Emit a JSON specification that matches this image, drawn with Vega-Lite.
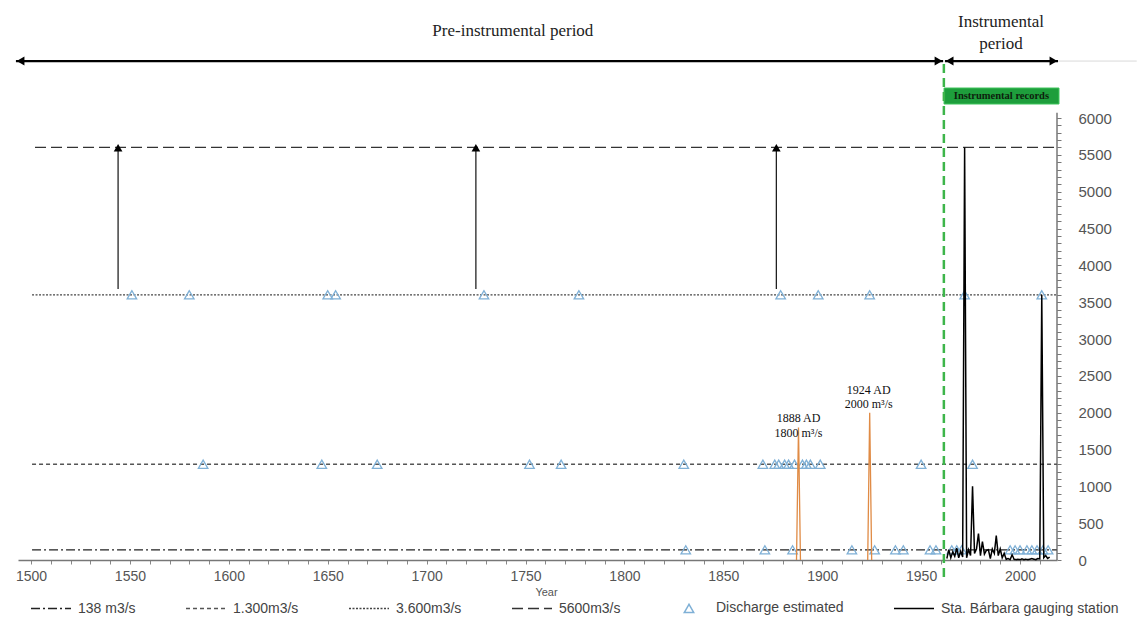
{
  "$schema": "https://vega.github.io/schema/vega-lite/v6.json",
  "width": 1039,
  "height": 555,
  "autosize": {"type": "none"},
  "padding": {"left": 18, "top": 5, "right": 80, "bottom": 59},
  "background": "white",
  "config": {"view": {"stroke": null}, "font": "Liberation Sans", "axis": {"labelOverlap": false, "labelFlush": false}},
  "datasets": {
    "separator": [{"year": 1491.9, "year2": 2059, "q": 6773}],
    "periodArrows": [
      {"year": 1492.4, "year2": 1961.1, "q": 6773},
      {"year": 1962.1, "year2": 2019.2, "q": 6773}
    ],
    "periodHeads": [
      {"year": 1494.7, "q": 6773, "end": "start"},
      {"year": 1958.8, "q": 6773, "end": "end"},
      {"year": 1964.4, "q": 6773, "end": "start"},
      {"year": 2016.9, "q": 6773, "end": "end"}
    ],
    "periodTexts": [
      {"year": 1743.6, "q": 7181, "label": "Pre-instrumental period"},
      {"year": 1990.4, "q": 7303, "label": "Instrumental"},
      {"year": 1990.4, "q": 7004, "label": "period"}
    ],
    "greenLine": [{"year": 1961.5, "q": -231, "q2": 6800}],
    "greenBox": [{"year": 1961.6, "year2": 2019.7, "q": 6190, "q2": 6407}],
    "greenText": [{"year": 1990.6, "q": 6300, "label": "Instrumental records"}],
    "thresholds": [
      {"series": "138 m3/s", "q": 138, "year": 1500.5, "year2": 2018.7},
      {"series": "1.300m3/s", "q": 1300, "year": 1500.5, "year2": 2018.7},
      {"series": "3.600m3/s", "q": 3600, "year": 1500.5, "year2": 2018.7},
      {"series": "5600m3/s", "q": 5600, "year": 1502, "year2": 2018.7}
    ],
    "vArrows": [
      {"year": 1544, "q": 3679, "q2": 5560},
      {"year": 1724.9, "q": 3679, "q2": 5560},
      {"year": 1876.8, "q": 3679, "q2": 5560}
    ],
    "vHeads": [
      {"year": 1544, "q": 5597},
      {"year": 1724.9, "q": 5597},
      {"year": 1876.8, "q": 5597}
    ],
    "discharge": [
      {"series": "Discharge estimated", "year": 1551, "q": 3600},
      {"series": "Discharge estimated", "year": 1580, "q": 3600},
      {"series": "Discharge estimated", "year": 1650, "q": 3600},
      {"series": "Discharge estimated", "year": 1654, "q": 3600},
      {"series": "Discharge estimated", "year": 1729, "q": 3600},
      {"series": "Discharge estimated", "year": 1777, "q": 3600},
      {"series": "Discharge estimated", "year": 1879, "q": 3600},
      {"series": "Discharge estimated", "year": 1898, "q": 3600},
      {"series": "Discharge estimated", "year": 1924, "q": 3600},
      {"series": "Discharge estimated", "year": 1972, "q": 3600},
      {"series": "Discharge estimated", "year": 2011, "q": 3600},
      {"series": "Discharge estimated", "year": 1587, "q": 1300},
      {"series": "Discharge estimated", "year": 1647, "q": 1300},
      {"series": "Discharge estimated", "year": 1675, "q": 1300},
      {"series": "Discharge estimated", "year": 1752, "q": 1300},
      {"series": "Discharge estimated", "year": 1768, "q": 1300},
      {"series": "Discharge estimated", "year": 1830, "q": 1300},
      {"series": "Discharge estimated", "year": 1870, "q": 1300},
      {"series": "Discharge estimated", "year": 1876, "q": 1300},
      {"series": "Discharge estimated", "year": 1878, "q": 1300},
      {"series": "Discharge estimated", "year": 1881, "q": 1300},
      {"series": "Discharge estimated", "year": 1883, "q": 1300},
      {"series": "Discharge estimated", "year": 1886, "q": 1300},
      {"series": "Discharge estimated", "year": 1890, "q": 1300},
      {"series": "Discharge estimated", "year": 1892, "q": 1300},
      {"series": "Discharge estimated", "year": 1894, "q": 1300},
      {"series": "Discharge estimated", "year": 1899, "q": 1300},
      {"series": "Discharge estimated", "year": 1950, "q": 1300},
      {"series": "Discharge estimated", "year": 1976, "q": 1300},
      {"series": "Discharge estimated", "year": 1831, "q": 138},
      {"series": "Discharge estimated", "year": 1871, "q": 138},
      {"series": "Discharge estimated", "year": 1885, "q": 138},
      {"series": "Discharge estimated", "year": 1915, "q": 138},
      {"series": "Discharge estimated", "year": 1926.5, "q": 138},
      {"series": "Discharge estimated", "year": 1937, "q": 138},
      {"series": "Discharge estimated", "year": 1941, "q": 138},
      {"series": "Discharge estimated", "year": 1954.5, "q": 138},
      {"series": "Discharge estimated", "year": 1957.5, "q": 138},
      {"series": "Discharge estimated", "year": 1965.5, "q": 138},
      {"series": "Discharge estimated", "year": 1968, "q": 138},
      {"series": "Discharge estimated", "year": 1970.5, "q": 138},
      {"series": "Discharge estimated", "year": 1995, "q": 138},
      {"series": "Discharge estimated", "year": 1997.5, "q": 138},
      {"series": "Discharge estimated", "year": 2000, "q": 138},
      {"series": "Discharge estimated", "year": 2003.5, "q": 138},
      {"series": "Discharge estimated", "year": 2006, "q": 138},
      {"series": "Discharge estimated", "year": 2008.6, "q": 138},
      {"series": "Discharge estimated", "year": 2011.6, "q": 138},
      {"series": "Discharge estimated", "year": 2014.2, "q": 138}
    ],
    "orange": [
      {"event": "1888", "year": 1887, "q": 0},
      {"event": "1888", "year": 1888, "q": 1800},
      {"event": "1888", "year": 1889, "q": 0},
      {"event": "1924", "year": 1923, "q": 0},
      {"event": "1924", "year": 1924, "q": 2000},
      {"event": "1924", "year": 1925, "q": 0}
    ],
    "annotations": [
      {"year": 1888, "q": 1927, "label": "1888 AD"},
      {"year": 1888, "q": 1724, "label": "1800 m³/s"},
      {"year": 1923.5, "q": 2308, "label": "1924 AD"},
      {"year": 1923.5, "q": 2118, "label": "2000 m³/s"}
    ],
    "yAxisLine": [{"year": 2018.7, "q": 0, "q2": 6070}],
    "gauge": [
      {"series": "Sta. Bárbara gauging station", "year": 1963, "q": 20},
      {"series": "Sta. Bárbara gauging station", "year": 1964, "q": 140},
      {"series": "Sta. Bárbara gauging station", "year": 1965, "q": 30},
      {"series": "Sta. Bárbara gauging station", "year": 1966, "q": 110},
      {"series": "Sta. Bárbara gauging station", "year": 1967, "q": 50},
      {"series": "Sta. Bárbara gauging station", "year": 1968, "q": 160},
      {"series": "Sta. Bárbara gauging station", "year": 1969, "q": 30},
      {"series": "Sta. Bárbara gauging station", "year": 1970, "q": 120},
      {"series": "Sta. Bárbara gauging station", "year": 1971, "q": 40},
      {"series": "Sta. Bárbara gauging station", "year": 1972, "q": 5600},
      {"series": "Sta. Bárbara gauging station", "year": 1973, "q": 30},
      {"series": "Sta. Bárbara gauging station", "year": 1974, "q": 140},
      {"series": "Sta. Bárbara gauging station", "year": 1975, "q": 60},
      {"series": "Sta. Bárbara gauging station", "year": 1976, "q": 1000},
      {"series": "Sta. Bárbara gauging station", "year": 1977, "q": 90},
      {"series": "Sta. Bárbara gauging station", "year": 1978, "q": 150},
      {"series": "Sta. Bárbara gauging station", "year": 1979, "q": 360},
      {"series": "Sta. Bárbara gauging station", "year": 1980, "q": 60},
      {"series": "Sta. Bárbara gauging station", "year": 1981, "q": 250},
      {"series": "Sta. Bárbara gauging station", "year": 1982, "q": 80},
      {"series": "Sta. Bárbara gauging station", "year": 1983, "q": 130},
      {"series": "Sta. Bárbara gauging station", "year": 1984, "q": 140},
      {"series": "Sta. Bárbara gauging station", "year": 1985, "q": 20},
      {"series": "Sta. Bárbara gauging station", "year": 1986, "q": 150},
      {"series": "Sta. Bárbara gauging station", "year": 1987, "q": 90},
      {"series": "Sta. Bárbara gauging station", "year": 1988, "q": 330},
      {"series": "Sta. Bárbara gauging station", "year": 1989, "q": 60},
      {"series": "Sta. Bárbara gauging station", "year": 1990, "q": 150},
      {"series": "Sta. Bárbara gauging station", "year": 1991, "q": 30},
      {"series": "Sta. Bárbara gauging station", "year": 1992, "q": 90},
      {"series": "Sta. Bárbara gauging station", "year": 1993, "q": 10},
      {"series": "Sta. Bárbara gauging station", "year": 1994, "q": 20},
      {"series": "Sta. Bárbara gauging station", "year": 1995, "q": 5},
      {"series": "Sta. Bárbara gauging station", "year": 1996, "q": 70},
      {"series": "Sta. Bárbara gauging station", "year": 1997, "q": 10},
      {"series": "Sta. Bárbara gauging station", "year": 1998, "q": 5},
      {"series": "Sta. Bárbara gauging station", "year": 1999, "q": 10},
      {"series": "Sta. Bárbara gauging station", "year": 2000, "q": 5},
      {"series": "Sta. Bárbara gauging station", "year": 2001, "q": 15},
      {"series": "Sta. Bárbara gauging station", "year": 2002, "q": 5},
      {"series": "Sta. Bárbara gauging station", "year": 2003, "q": 10},
      {"series": "Sta. Bárbara gauging station", "year": 2004, "q": 5},
      {"series": "Sta. Bárbara gauging station", "year": 2005, "q": 10},
      {"series": "Sta. Bárbara gauging station", "year": 2006, "q": 20},
      {"series": "Sta. Bárbara gauging station", "year": 2007, "q": 10},
      {"series": "Sta. Bárbara gauging station", "year": 2008, "q": 5},
      {"series": "Sta. Bárbara gauging station", "year": 2009, "q": 20},
      {"series": "Sta. Bárbara gauging station", "year": 2010, "q": 15},
      {"series": "Sta. Bárbara gauging station", "year": 2011, "q": 3600},
      {"series": "Sta. Bárbara gauging station", "year": 2012, "q": 30},
      {"series": "Sta. Bárbara gauging station", "year": 2013, "q": 60},
      {"series": "Sta. Bárbara gauging station", "year": 2014, "q": 20},
      {"series": "Sta. Bárbara gauging station", "year": 2015, "q": 40}
    ]
  },
  "layer": [
    {
      "data": {"name": "separator"},
      "mark": {"type": "rule", "color": "#d9d9d9", "strokeWidth": 1, "clip": false},
      "encoding": {
        "x": {
          "field": "year", "type": "quantitative",
          "scale": {"domain": [1493.4, 2018.7], "nice": false, "zero": false},
          "axis": {
            "title": "Year", "titleFont": "Liberation Sans", "titleFontSize": 11, "titleFontWeight": "normal", "titleColor": "#555", "titlePadding": 3, "titleX": 528,
            "values": [1500,1510,1520,1530,1540,1550,1560,1570,1580,1590,1600,1610,1620,1630,1640,1650,1660,1670,1680,1690,1700,1710,1720,1730,1740,1750,1760,1770,1780,1790,1800,1810,1820,1830,1840,1850,1860,1870,1880,1890,1900,1910,1920,1930,1940,1950,1960,1970,1980,1990,2000,2010],
            "tickCount": 200,
            "format": "d",
            "labelExpr": "datum.value % 50 === 0 ? datum.label : ''",
            "labelFont": "Liberation Sans", "labelFontSize": 14, "labelColor": "#555",
            "labelOverlap": false, "labelFlush": false, "labelPadding": 5,
            "tickColor": "#888", "tickSize": 4, "domainColor": "#777", "domainWidth": 1.5, "grid": false
          }
        },
        "x2": {"field": "year2"},
        "y": {
          "field": "q", "type": "quantitative",
          "scale": {"domain": [0, 7534], "nice": false, "zero": false},
          "axis": {
            "title": null, "orient": "right",
            "values": [0,100,200,300,400,500,600,700,800,900,1000,1100,1200,1300,1400,1500,1600,1700,1800,1900,2000,2100,2200,2300,2400,2500,2600,2700,2800,2900,3000,3100,3200,3300,3400,3500,3600,3700,3800,3900,4000,4100,4200,4300,4400,4500,4600,4700,4800,4900,5000,5100,5200,5300,5400,5500,5600,5700,5800,5900,6000],
            "tickCount": 200,
            "format": "d",
            "labelExpr": "datum.value % 500 === 0 ? datum.label : ''",
            "labelFont": "Liberation Sans", "labelFontSize": 15, "labelColor": "#555",
            "labelOverlap": false, "labelFlush": false, "labelPadding": 17,
            "tickColor": "#777", "tickSize": 4, "domain": false, "grid": false
          }
        }
      }
    },
    {
      "data": {"name": "thresholds"},
      "mark": {"type": "rule", "strokeWidth": 1.3, "clip": false},
      "encoding": {
        "x": {"field": "year", "type": "quantitative"},
        "x2": {"field": "year2"},
        "y": {"field": "q", "type": "quantitative"},
        "color": {
          "field": "series", "type": "nominal",
          "scale": {"domain": ["138 m3/s", "1.300m3/s", "3.600m3/s", "5600m3/s", "Discharge estimated", "Sta. Bárbara gauging station"], "range": ["#222222", "#555555", "#444444", "#333333", "#7fb0d6", "#000000"]},
          "legend": {
            "title": null, "orient": "none", "legendX": 12, "legendY": 582, "direction": "horizontal",
            "symbolType": "stroke", "symbolSize": 1600, "symbolStrokeWidth": 1.5,
            "labelFont": "Liberation Sans", "labelFontSize": 14, "labelColor": "#444", "labelLimit": 400,
            "columnPadding": 47, "labelOffset": 6,
            "encode": {"symbols": {"update": {
              "shape": {"signal": "datum.value === 'Discharge estimated' ? 'triangle-up' : 'stroke'"},
              "size": {"signal": "datum.value === 'Discharge estimated' ? 90 : 1600"},
              "fill": {"value": "transparent"}
            }}}
          }
        },
        "strokeDash": {
          "field": "series", "type": "nominal",
          "scale": {"domain": ["138 m3/s", "1.300m3/s", "3.600m3/s", "5600m3/s", "Discharge estimated", "Sta. Bárbara gauging station"], "range": [[9, 3, 2, 3], [4, 3], [2, 1.5], [11, 5], [1, 0], [1, 0]]},
          "legend": {
            "title": null, "orient": "none", "legendX": 12, "legendY": 582, "direction": "horizontal",
            "symbolType": "stroke", "symbolSize": 1600, "symbolStrokeWidth": 1.5,
            "labelFont": "Liberation Sans", "labelFontSize": 14, "labelColor": "#444", "labelLimit": 400,
            "columnPadding": 47, "labelOffset": 6,
            "encode": {"symbols": {"update": {
              "shape": {"signal": "datum.value === 'Discharge estimated' ? 'triangle-up' : 'stroke'"},
              "size": {"signal": "datum.value === 'Discharge estimated' ? 90 : 1600"},
              "fill": {"value": "transparent"}
            }}}
          }
        }
      }
    },
    {
      "data": {"name": "periodArrows"},
      "mark": {"type": "rule", "color": "#000000", "strokeWidth": 2.2, "clip": false},
      "encoding": {
        "x": {"field": "year", "type": "quantitative"},
        "x2": {"field": "year2"},
        "y": {"field": "q", "type": "quantitative"}
      }
    },
    {
      "data": {"name": "periodHeads"},
      "mark": {"type": "point", "filled": true, "color": "#000000", "size": 80, "opacity": 1, "clip": false},
      "encoding": {
        "x": {"field": "year", "type": "quantitative"},
        "y": {"field": "q", "type": "quantitative"},
        "shape": {"field": "end", "type": "nominal", "scale": {"domain": ["start", "end"], "range": ["triangle-left", "triangle-right"]}, "legend": null}
      }
    },
    {
      "data": {"name": "periodTexts"},
      "mark": {"type": "text", "font": "Liberation Serif", "fontSize": 17, "color": "#222222", "baseline": "middle", "align": "center", "clip": false},
      "encoding": {
        "x": {"field": "year", "type": "quantitative"},
        "y": {"field": "q", "type": "quantitative"},
        "text": {"field": "label"}
      }
    },
    {
      "data": {"name": "greenBox"},
      "mark": {"type": "rect", "fill": "#1e9e3c", "stroke": "#3cc45a", "strokeWidth": 1, "clip": false},
      "encoding": {
        "x": {"field": "year", "type": "quantitative"},
        "x2": {"field": "year2"},
        "y": {"field": "q", "type": "quantitative"},
        "y2": {"field": "q2"}
      }
    },
    {
      "data": {"name": "greenText"},
      "mark": {"type": "text", "font": "Liberation Serif", "fontSize": 10.5, "fontWeight": "bold", "color": "#0d1f0d", "baseline": "middle", "align": "center", "clip": false},
      "encoding": {
        "x": {"field": "year", "type": "quantitative"},
        "y": {"field": "q", "type": "quantitative"},
        "text": {"field": "label"}
      }
    },
    {
      "data": {"name": "vArrows"},
      "mark": {"type": "rule", "color": "#111111", "strokeWidth": 1.2, "clip": false},
      "encoding": {
        "x": {"field": "year", "type": "quantitative"},
        "y": {"field": "q", "type": "quantitative"},
        "y2": {"field": "q2"}
      }
    },
    {
      "data": {"name": "vHeads"},
      "mark": {"type": "point", "shape": "triangle-up", "filled": true, "color": "#000000", "size": 75, "opacity": 1, "clip": false},
      "encoding": {
        "x": {"field": "year", "type": "quantitative"},
        "y": {"field": "q", "type": "quantitative"}
      }
    },
    {
      "data": {"name": "discharge"},
      "mark": {"type": "point", "shape": "triangle-up", "filled": false, "size": 90, "strokeWidth": 1.3, "opacity": 1, "clip": false},
      "encoding": {
        "x": {"field": "year", "type": "quantitative"},
        "y": {"field": "q", "type": "quantitative"},
        "color": {"field": "series", "type": "nominal"}
      }
    },
    {
      "data": {"name": "orange"},
      "mark": {"type": "line", "color": "#e08b45", "strokeWidth": 1.3, "clip": false},
      "encoding": {
        "x": {"field": "year", "type": "quantitative"},
        "y": {"field": "q", "type": "quantitative"},
        "detail": {"field": "event", "type": "nominal"}
      }
    },
    {
      "data": {"name": "gauge"},
      "mark": {"type": "line", "strokeWidth": 1.5, "clip": false},
      "encoding": {
        "x": {"field": "year", "type": "quantitative"},
        "y": {"field": "q", "type": "quantitative"},
        "color": {"field": "series", "type": "nominal"},
        "strokeDash": {"field": "series", "type": "nominal"}
      }
    },
    {
      "data": {"name": "greenLine"},
      "mark": {"type": "rule", "color": "#3db54a", "strokeWidth": 2.5, "strokeDash": [9, 5], "clip": false},
      "encoding": {
        "x": {"field": "year", "type": "quantitative"},
        "y": {"field": "q", "type": "quantitative"},
        "y2": {"field": "q2"}
      }
    },
    {
      "data": {"name": "annotations"},
      "mark": {"type": "text", "font": "Liberation Serif", "fontSize": 12, "color": "#111111", "baseline": "middle", "align": "center", "clip": false},
      "encoding": {
        "x": {"field": "year", "type": "quantitative"},
        "y": {"field": "q", "type": "quantitative"},
        "text": {"field": "label"}
      }
    },
    {
      "data": {"name": "yAxisLine"},
      "mark": {"type": "rule", "color": "#555555", "strokeWidth": 1.2, "clip": false},
      "encoding": {
        "x": {"field": "year", "type": "quantitative"},
        "y": {"field": "q", "type": "quantitative"},
        "y2": {"field": "q2"}
      }
    }
  ]
}
